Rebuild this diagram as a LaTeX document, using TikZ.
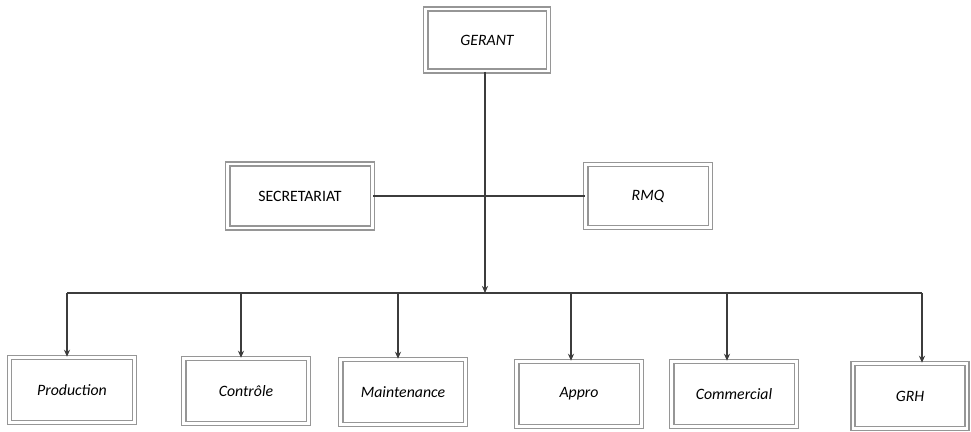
\documentclass[tikz,border=0pt]{standalone}
\usepackage{fontspec}
\setmainfont{Carlito}
\usepackage{xcolor}
\usetikzlibrary{arrows.meta,positioning,calc}
\definecolor{boxgray}{RGB}{150,150,150}
\definecolor{linegray}{RGB}{60,60,60}

\begin{document}
\begin{tikzpicture}[x=0.02cm,y=-0.02cm,>={Stealth[length=4pt,width=3.5pt]}]
  \useasboundingbox (0,0) rectangle (971,432);
  \tikzset{
    unitbox/.style={draw=boxgray,double=white,double distance=1.6pt,line width=0.9pt,
      minimum width=2.5cm,minimum height=1.3cm,inner sep=2pt,
      font=\fontsize{9}{11}\selectfont\itshape},
    link/.style={linegray,line width=0.6pt}
  }
  % top level
  \node[unitbox,minimum width=2.46cm,minimum height=1.24cm] (gerant) at (487,40) {GERANT};
  % staff level
  \node[unitbox,minimum width=2.9cm,minimum height=1.28cm,font=\fontsize{9}{11}\selectfont] (secret) at (300,196) {SECRETARIAT};
  \node[unitbox,minimum width=2.5cm,minimum height=1.26cm] (rmq) at (648,196) {RMQ};
  % departments
  \node[unitbox] (prod)  at (72,390)  {Production};
  \node[unitbox] (ctrl)  at (246,391) {Contrôle};
  \node[unitbox] (maint) at (403,392) {Maintenance};
  \node[unitbox] (appro) at (579,394) {Appro};
  \node[unitbox] (comm)  at (734,394) {Commercial};
  \node[unitbox,minimum width=2.28cm] (grh) at (910,396) {GRH};
  % bus line
  \coordinate (busmid) at (485,293);
  \coordinate (busL) at (67,293);
  \coordinate (busR) at (922,293);
  \draw[link] (secret.east) -- (rmq.west);
  \draw[link,->] (gerant.south -| busmid) -- (busmid);
  \draw[link] (busL) -- (busR);
  % drops to departments
  \draw[link,->] (busL) -- (busL |- prod.north);
  \draw[link,->] ($(ctrl.north |- busL)+(-5,0)$) -- ($(ctrl.north)+(-5,0)$);
  \draw[link,->] ($(maint.north |- busL)+(-5,0)$) -- ($(maint.north)+(-5,0)$);
  \draw[link,->] ($(appro.north |- busL)+(-8,0)$) -- ($(appro.north)+(-8,0)$);
  \draw[link,->] ($(comm.north |- busL)+(-7,0)$) -- ($(comm.north)+(-7,0)$);
  \draw[link,->] (busR) -- (busR |- grh.north);
\end{tikzpicture}
\end{document}
